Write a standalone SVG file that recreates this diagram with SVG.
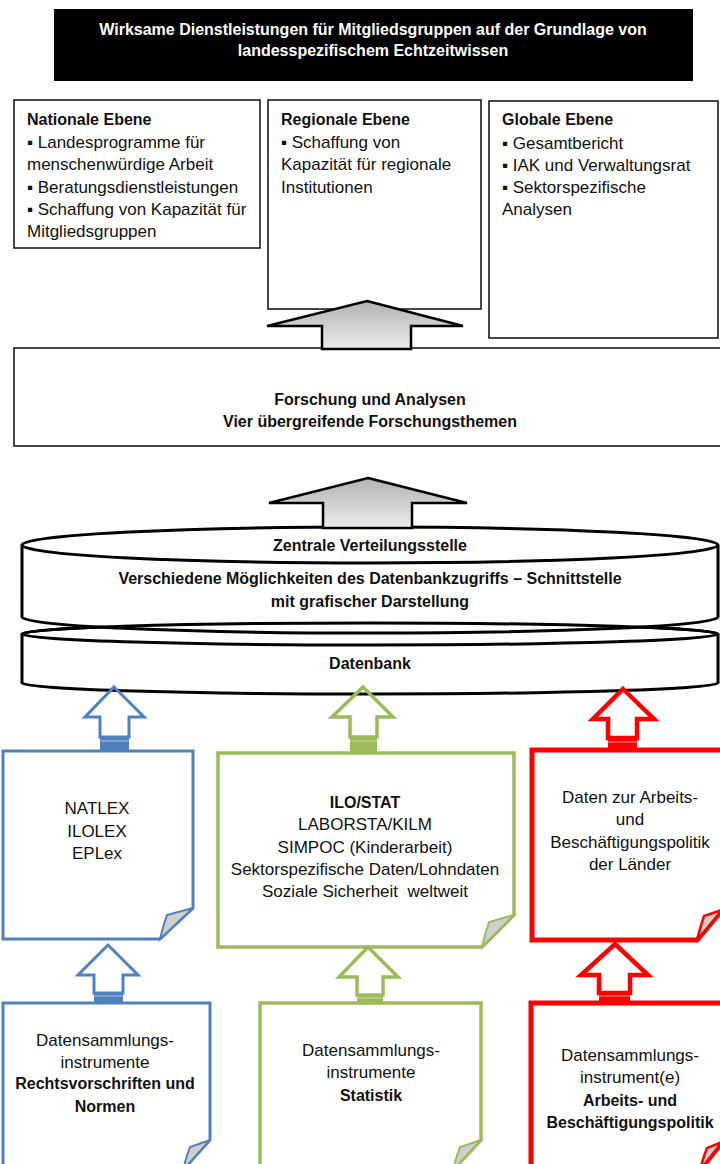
<svg xmlns="http://www.w3.org/2000/svg" width="720" height="1164" viewBox="0 0 720 1164">
<style>
.t{font-family:"Liberation Sans",Arial,sans-serif;font-size:17px;fill:#111}
.b{font-weight:bold;font-size:16px}
.c{text-anchor:middle}
.w{fill:#fff}
.box{fill:#fff;stroke:#1a1a1a;stroke-width:1.6}
.cyl{fill:#fff;stroke:#000;stroke-width:3}
.ga{fill:url(#gg);stroke:#000;stroke-width:2.5;stroke-linejoin:miter}
.fold{fill:#cfcfcf;stroke-linejoin:miter}
.blue{stroke:#4F81BD;stroke-width:3;fill:#fff}
.green{stroke:#9BBB59;stroke-width:3.5;fill:#fff}
.red{stroke:#FF0000;stroke-width:5;fill:#fff}
.arr{fill:none;stroke-linejoin:miter}
</style>
<defs>
<linearGradient id="gg" x1="0" y1="0" x2="0" y2="1">
<stop offset="0" stop-color="#b2b2b2"/>
<stop offset="1" stop-color="#ececec"/>
</linearGradient>
</defs>

<g id="banner">
<rect x="54" y="9" width="639" height="72" fill="#000"/>
<text class="t b c w" x="373" y="35">Wirksame Dienstleistungen für Mitgliedsgruppen auf der Grundlage von</text>
<text class="t b c w" x="373" y="56">landesspezifischem Echtzeitwissen</text>
</g>

<g id="national">
<rect class="box" x="14" y="100" width="246" height="148"/>
<text class="t b" x="27" y="125">Nationale Ebene</text>
<text class="t" x="27" y="148">▪ Landesprogramme für</text>
<text class="t" x="27" y="170">menschenwürdige Arbeit</text>
<text class="t" x="27" y="193">▪ Beratungsdienstleistungen</text>
<text class="t" x="27" y="215">▪ Schaffung von Kapazität für</text>
<text class="t" x="27" y="237">Mitgliedsgruppen</text>
</g>

<g id="regional">
<rect class="box" x="268" y="100" width="213" height="209"/>
<text class="t b" x="281" y="125">Regionale Ebene</text>
<text class="t" x="281" y="148">▪ Schaffung von</text>
<text class="t" x="281" y="170">Kapazität für regionale</text>
<text class="t" x="281" y="193">Institutionen</text>
</g>

<g id="global">
<rect class="box" x="489" y="101" width="229" height="237"/>
<text class="t b" x="502" y="125">Globale Ebene</text>
<text class="t" x="502" y="149">▪ Gesamtbericht</text>
<text class="t" x="502" y="171">▪ IAK und Verwaltungsrat</text>
<text class="t" x="502" y="193">▪ Sektorspezifische</text>
<text class="t" x="502" y="215">Analysen</text>
</g>

<g id="research">
<rect class="box" x="14" y="348" width="712" height="98"/>
<text class="t b c" x="370" y="405">Forschung und Analysen</text>
<text class="t b c" x="370" y="427">Vier übergreifende Forschungsthemen</text>
</g>

<g id="database">
<path class="cyl" d="M22,634 A348,11 0 0,1 718,634 L718,683 A348,11 0 0,1 22,683 Z"/>
<text class="t b c" x="370" y="669">Datenbank</text>
</g>

<g id="hub">
<path class="cyl" d="M22,545 A348,18 0 0,1 718,545 L718,617 A348,16 0 0,1 22,617 Z"/>
<path d="M22,545 A348,18 0 0,0 718,545" fill="none" stroke="#000" stroke-width="3"/>
<path d="M22,634 A348,11 0 0,1 718,634" fill="none" stroke="#000" stroke-width="3"/>
<path d="M22,634 A348,11 0 0,0 718,634" fill="none" stroke="#000" stroke-width="3"/>
<text class="t b c" x="370" y="551">Zentrale Verteilungsstelle</text>
<text class="t b c" x="370" y="584">Verschiedene Möglichkeiten des Datenbankzugriffs – Schnittstelle</text>
<text class="t b c" x="370" y="607">mit grafischer Darstellung</text>
</g>

<g id="doc-natlex">
<path class="blue" d="M3,751 H193 V908 L160,939 H3 Z"/>
<path class="fold" stroke="#4F81BD" stroke-width="2" d="M193,908 L167,915 Q163,926 160,939 Z"/>
<text class="t c" x="97" y="814">NATLEX</text>
<text class="t c" x="97" y="837">ILOLEX</text>
<text class="t c" x="97" y="859">EPLex</text>
</g>

<g id="doc-ilostat">
<path class="green" d="M218,753 H514 V915 L482,947 H218 Z"/>
<path class="fold" stroke="#9BBB59" stroke-width="2" d="M514,915 L489,922 Q485,933 482,947 Z"/>
<text class="t b c" x="365" y="808">ILO/STAT</text>
<text class="t c" x="365" y="830">LABORSTA/KILM</text>
<text class="t c" x="365" y="853">SIMPOC (Kinderarbeit)</text>
<text class="t c" x="365" y="875">Sektorspezifische Daten/Lohndaten</text>
<text class="t c" x="365" y="897">Soziale Sicherheit&#160; weltweit</text>
</g>

<g id="doc-policy">
<path class="red" d="M532,750 H724 V908 L697,940 H532 Z"/>
<path class="fold" stroke="#FF0000" stroke-width="2.5" d="M722,910 L704,916 Q700,928 697,940 Z"/>
<text class="t c" x="630" y="803">Daten zur Arbeits-</text>
<text class="t c" x="630" y="825">und</text>
<text class="t c" x="630" y="848">Beschäftigungspolitik</text>
<text class="t c" x="630" y="870">der Länder</text>
</g>

<g id="doc-legal-tools">
<path class="blue" d="M3,1003 H210 V1140 L183,1170 H3 Z"/>
<path class="fold" stroke="#4F81BD" stroke-width="2" d="M210,1140 L190,1147 Q186,1157 183,1170 Z"/>
<text class="t c" x="105" y="1046">Datensammlungs-</text>
<text class="t c" x="105" y="1068">instrumente</text>
<text class="t b c" x="105" y="1089">Rechtsvorschriften und</text>
<text class="t b c" x="105" y="1112">Normen</text>
</g>

<g id="doc-stat-tools">
<path class="green" d="M260,1003 H481 V1140 L453,1170 H260 Z"/>
<path class="fold" stroke="#9BBB59" stroke-width="2" d="M481,1140 L460,1147 Q456,1157 453,1170 Z"/>
<text class="t c" x="371" y="1056">Datensammlungs-</text>
<text class="t c" x="371" y="1078">instrumente</text>
<text class="t b c" x="371" y="1101">Statistik</text>
</g>

<g id="doc-policy-tools">
<path class="red" d="M531,1003 H724 V1140 L700,1170 H531 Z"/>
<path class="fold" stroke="#FF0000" stroke-width="2.5" d="M722,1142 L707,1148 Q703,1158 700,1170 Z"/>
<text class="t c" x="630" y="1061">Datensammlungs-</text>
<text class="t c" x="630" y="1083">instrument(e)</text>
<text class="t b c" x="630" y="1106">Arbeits- und</text>
<text class="t b c" x="630" y="1128">Beschäftigungspolitik</text>
</g>

<g id="connectors">
<path class="ga" d="M367,301 L463,326 L411,326 L411,349 L322,349 L322,326 L267,326 Z"/>
<path class="ga" d="M368,478 L467,503 L412,503 L412,528 L323,528 L323,503 L269,503 Z"/>

<path class="arr" stroke="#4F81BD" stroke-width="3" d="M114,687 L144,717 L129,717 L129,737 L100,737 L100,717 L85,717 Z"/>
<rect x="100" y="736" width="29" height="15" fill="#4F81BD"/>
<line x1="100" y1="741" x2="129" y2="741" stroke="#a9c0de" stroke-width="1"/>

<path class="arr" stroke="#9BBB59" stroke-width="3.5" d="M363,687 L393,717 L377,717 L377,737 L350,737 L350,717 L332,717 Z"/>
<rect x="350" y="736" width="27" height="17" fill="#9BBB59"/>
<line x1="350" y1="741" x2="377" y2="741" stroke="#cddcab" stroke-width="1"/>

<path class="arr" stroke="#FF0000" stroke-width="4.5" d="M623,689 L654,719 L637,719 L637,738 L608,738 L608,719 L593,719 Z"/>
<rect x="608" y="737" width="29" height="13" fill="#FF0000"/>
<line x1="608" y1="742" x2="637" y2="742" stroke="#ff9a9a" stroke-width="1"/>

<path class="arr" stroke="#4F81BD" stroke-width="3" d="M108,945 L138,975 L123,975 L123,993 L94,993 L94,975 L78,975 Z"/>
<rect x="94" y="992" width="29" height="11" fill="#4F81BD"/>
<line x1="94" y1="996" x2="123" y2="996" stroke="#a9c0de" stroke-width="1"/>

<path class="arr" stroke="#9BBB59" stroke-width="3.5" d="M368,947 L398,977 L383,977 L383,995 L357,995 L357,977 L339,977 Z"/>
<rect x="357" y="994" width="26" height="9" fill="#9BBB59"/>
<line x1="357" y1="998" x2="383" y2="998" stroke="#cddcab" stroke-width="1"/>

<path class="arr" stroke="#FF0000" stroke-width="4.5" d="M615,944 L648,975 L630,975 L630,993 L599,993 L599,975 L581,975 Z"/>
<rect x="599" y="992" width="31" height="11" fill="#FF0000"/>
<line x1="599" y1="996" x2="630" y2="996" stroke="#ff9a9a" stroke-width="1"/>
</g>
</svg>
